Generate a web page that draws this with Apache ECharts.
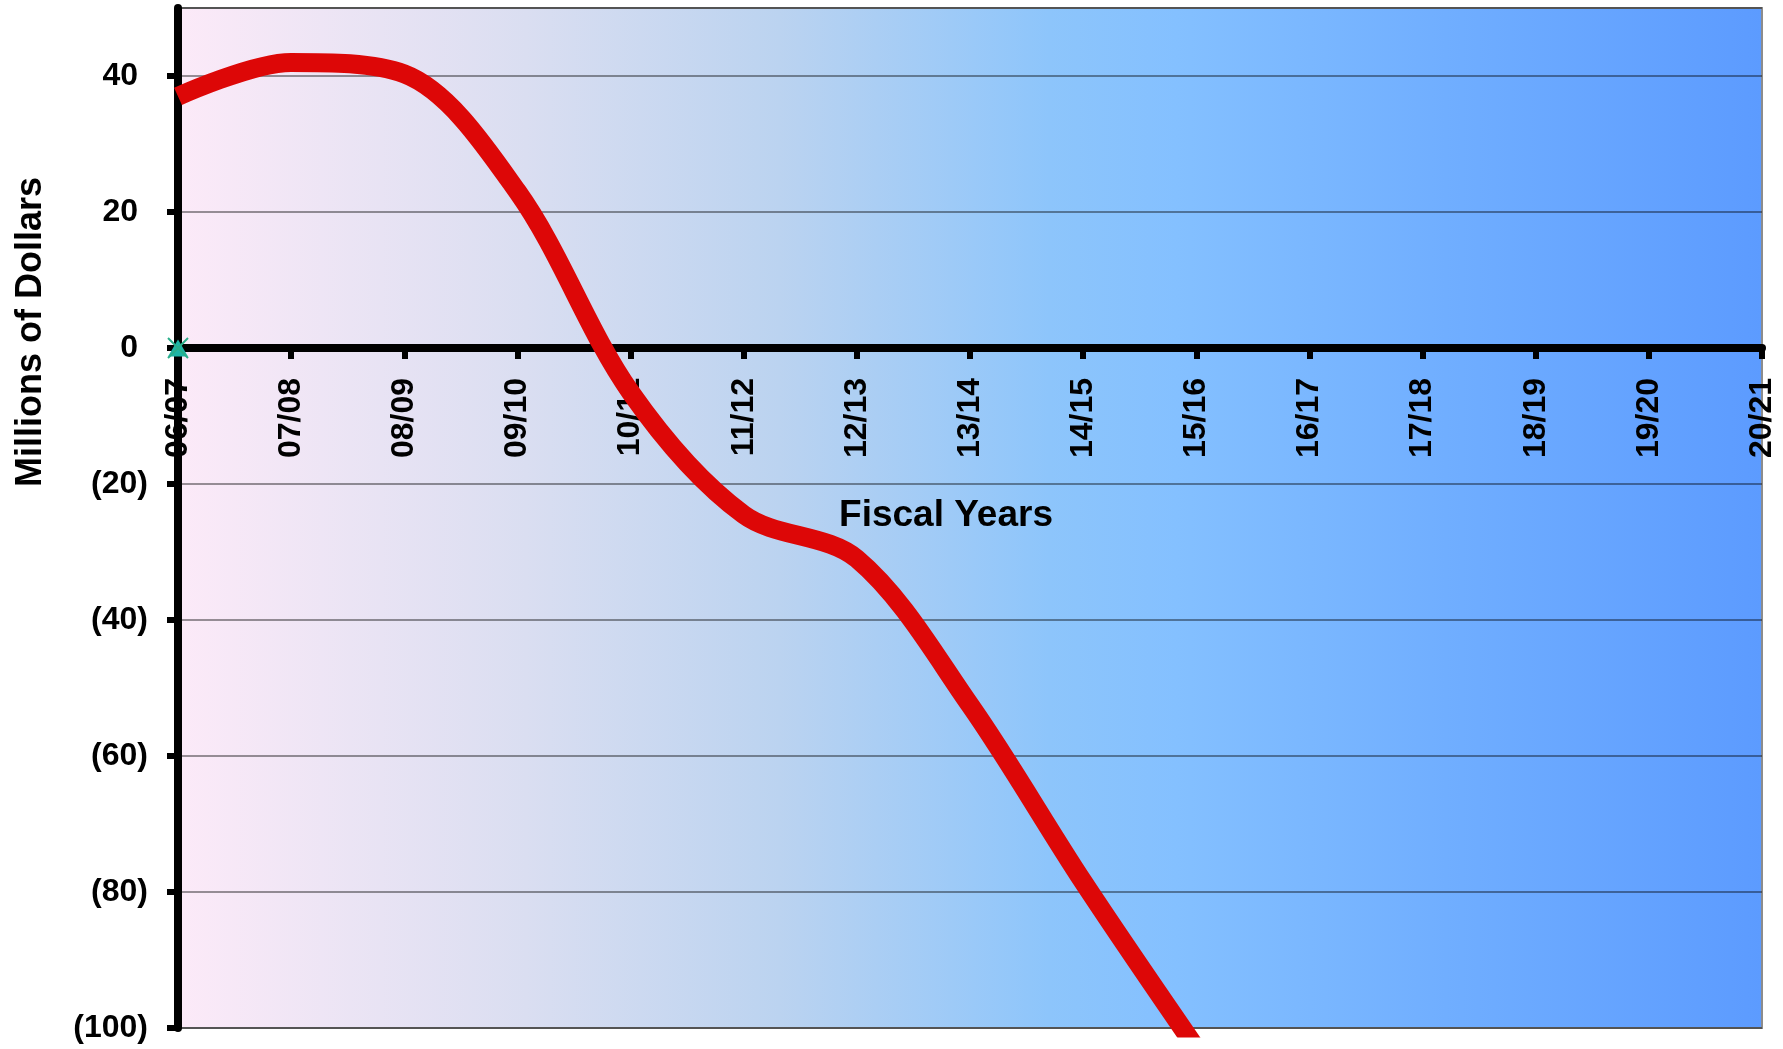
<!DOCTYPE html>
<html>
<head>
<meta charset="utf-8">
<title>Fiscal Years</title>
<script src="https://cdn.jsdelivr.net/npm/echarts@6/dist/echarts.min.js"></script>
<style>
  html, body { margin: 0; padding: 0; background: #ffffff; }
  #chart { width: 1783px; height: 1049px; }
</style>
</head>
<body>
<div id="chart"></div>
<script>
// Fiscal year categories along the horizontal axis
const fiscalYears = ['06/07', '07/08', '08/09', '09/10', '10/11', '11/12', '12/13',
  '13/14', '14/15', '15/16', '16/17', '17/18', '18/19', '19/20', '20/21'];

// Projected balance, millions of dollars
const balance = [37, 42, 40.3, 23, -6.5, -24.5, -31, -52.5, -78.5, -103,
  null, null, null, null, null];

// Starting reference marker (first year only)
const startMarker = [0, null, null, null, null, null, null, null, null, null,
  null, null, null, null, null];

// Value axis range and step
const yMin = -100;
const yMax = 50;
const yStep = 20;

const FONT = '"Liberation Sans", Arial, sans-serif';

// Plot box, in pixels
const GRID = { left: 178, right: 21, top: 8, bottom: 21 };
const CHART_H = 1049;
const plotHeight = CHART_H - GRID.top - GRID.bottom;
// the category axis sits on the zero line of the value axis
const zeroOffset = -plotHeight * (0 - yMin) / (yMax - yMin);

const chart = echarts.init(document.getElementById('chart'));

const plotBackground = new echarts.graphic.LinearGradient(0, 0, 1, 0, [
  { offset: 0.00, color: '#FCEAF8' },
  { offset: 0.22, color: '#DADEF1' },
  { offset: 0.38, color: '#BBD3F0' },
  { offset: 0.55, color: '#8DC5FB' },
  { offset: 0.63, color: '#84C0FF' },
  { offset: 0.80, color: '#70AEFF' },
  { offset: 1.00, color: '#5C9BFF' }
]);

chart.setOption({
  animation: false,
  backgroundColor: '#ffffff',
  grid: {
    left: GRID.left,
    right: GRID.right,
    top: GRID.top,
    bottom: GRID.bottom,
    containLabel: false,
    outerBoundsMode: 'none',
    show: true,
    backgroundColor: plotBackground,
    borderColor: '#8C8C8C',
    borderWidth: 2
  },
  xAxis: {
    type: 'category',
    data: fiscalYears,
    boundaryGap: false,
    position: 'bottom',
    offset: zeroOffset,
    z: 1,
    axisLine: { onZero: false, lineStyle: { color: '#000000', width: 8 } },
    axisTick: { show: true, alignWithLabel: true, length: 11, lineStyle: { color: '#000000', width: 6 } },
    axisLabel: {
      rotate: 90,
      interval: 0,
      margin: 30,
      hideOverlap: false,
      color: '#000000',
      fontFamily: FONT,
      fontWeight: 'bold',
      fontSize: 32
    },
    splitLine: { show: false },
    name: 'Fiscal Years',
    nameLocation: 'middle',
    nameGap: 149,
    nameMoveOverlap: false,
    nameTextStyle: {
      color: '#000000',
      fontFamily: FONT,
      fontWeight: 'bold',
      fontSize: 37,
      padding: [0, 48, 0, 0]
    }
  },
  yAxis: {
    type: 'value',
    min: yMin,
    max: yMax,
    interval: yStep,
    z: 1,
    axisLine: { show: true, lineStyle: { color: '#000000', width: 8 } },
    axisTick: { show: true, length: 11, lineStyle: { color: '#000000', width: 6 } },
    axisLabel: {
      showMaxLabel: false,
      margin: 30,
      color: '#000000',
      fontFamily: FONT,
      fontWeight: 'bold',
      fontSize: 32,
      formatter: function (v) {
        if (v > 40) return '';
        if (v < 0) return '(' + Math.abs(v) + ')';
        return '{pos|' + v + '}';
      },
      rich: {
        pos: {
          color: '#000000',
          fontFamily: FONT,
          fontWeight: 'bold',
          fontSize: 32,
          padding: [0, 10, 0, 0]
        }
      }
    },
    splitLine: { show: true, lineStyle: { color: 'rgba(0,0,0,0.4)', width: 2 } },
    name: 'Millions of Dollars',
    nameLocation: 'middle',
    nameRotate: 90,
    nameGap: 129,
    nameMoveOverlap: false,
    nameTextStyle: {
      color: '#000000',
      fontFamily: FONT,
      fontWeight: 'bold',
      fontSize: 36,
      padding: [0, 0, 0, 372]
    }
  },
  series: [
    {
      name: 'Balance',
      type: 'line',
      data: balance,
      smooth: 0.33,
      showSymbol: false,
      symbol: 'none',
      clip: true,
      connectNulls: false,
      lineStyle: { color: '#DD0707', width: 19, cap: 'butt', join: 'round' },
      z: 3
    },
    {
      name: 'Start',
      type: 'scatter',
      data: startMarker,
      symbol: 'triangle',
      symbolSize: [20, 17],
      clip: false,
      itemStyle: { color: '#1DB5A6', opacity: 1 },
      z: 20
    },
    {
      name: 'Start cross',
      type: 'scatter',
      data: startMarker,
      symbol: 'path://M0,0L10,10M10,0L0,10',
      symbolSize: 20,
      clip: false,
      itemStyle: { color: '#2AAE8A', borderColor: '#2AAE8A', borderWidth: 2, opacity: 1 },
      z: 21
    }
  ]
});
</script>
</body>
</html>
